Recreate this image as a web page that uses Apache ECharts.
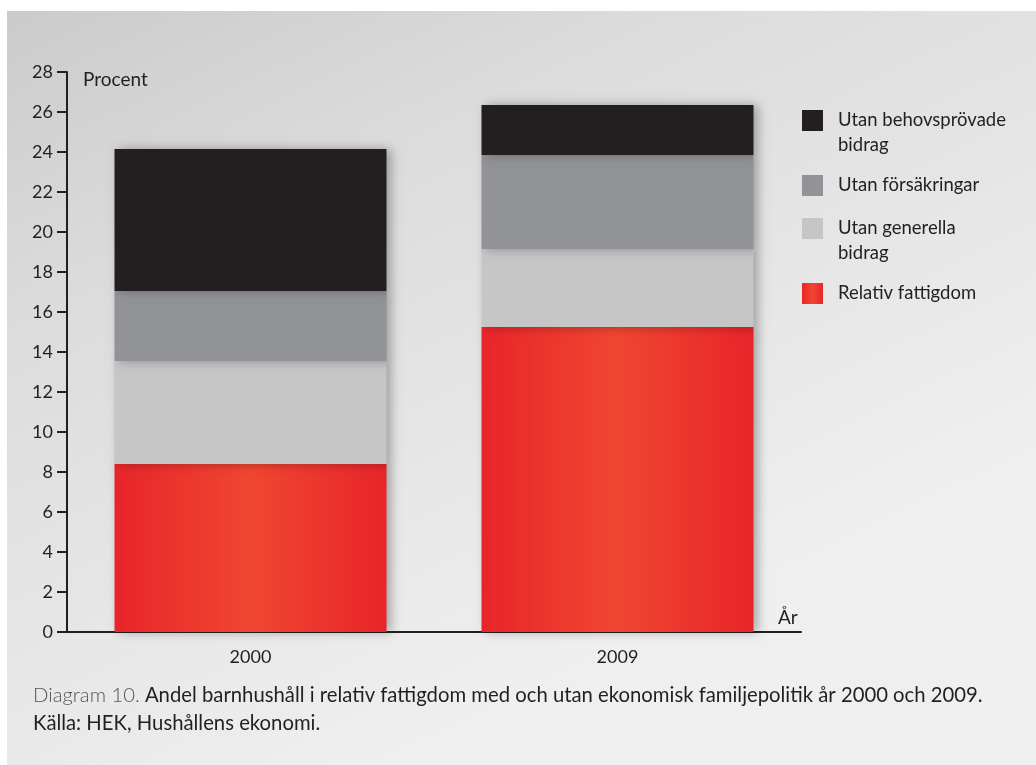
<!DOCTYPE html>
<html><head><meta charset="utf-8">
<script src="https://cdn.jsdelivr.net/npm/echarts@6/dist/echarts.min.js"></script>
<style>html,body{margin:0;padding:0;background:#fff}#c{width:1036px;height:765px}</style>
</head><body><div id="c"></div>
<script>
const years = ['2000', '2009'];
const relativFattigdom = [8.4, 15.25];
const utanGenerella = [5.15, 3.9];
const utanForsakringar = [3.5, 4.7];
const utanBehovsprovade = [7.1, 2.5];
const yTicks = [0, 2, 4, 6, 8, 10, 12, 14, 16, 18, 20, 22, 24, 26, 28];
const seriesNames = ['Relativ fattigdom', 'Utan generella bidrag', 'Utan försäkringar', 'Utan behovsprövade bidrag'];

const FONT = 'Lato, "Open Sans", sans-serif';
const shadow = {shadowBlur: 10, shadowOffsetX: 4, shadowOffsetY: 0, shadowColor: 'rgba(0,0,0,0.3)'};
const redGrad = new echarts.graphic.LinearGradient(0, 0, 1, 0, [
  {offset: 0, color: '#e8252a'}, {offset: 0.5, color: '#f04631'}, {offset: 1, color: '#e8252a'}]);
const colors = [redGrad, '#c6c6c6', '#929396', '#231f20'];
const dataSets = [relativFattigdom, utanGenerella, utanForsakringar, utanBehovsprovade];

const chart = echarts.init(document.getElementById('c'), null, {renderer: 'canvas'});

function legendFor(name, top) {
  return {
    data: [{name: name, itemStyle: {shadowBlur: 0, shadowOffsetX: 0}}],
    left: 802, top: top, padding: 0, orient: 'vertical',
    itemWidth: 21, itemHeight: 21, icon: 'rect', selectedMode: false,
    formatter: function (n) {
      if (n === 'Utan behovsprövade bidrag') return '\nUtan behovsprövade\nbidrag';
      if (n === 'Utan generella bidrag') return '\nUtan generella\nbidrag';
      return n;
    },
    textStyle: {fontFamily: FONT, fontSize: 18.5, color: '#231f20', lineHeight: 25,
      padding: [0, 0, 0, 10]}
  };
}

chart.setOption({
  animation: false,
  graphic: [
    {type: 'rect', left: 7, top: 11, z: -10, shape: {width: 1029, height: 754},
     style: {fill: new echarts.graphic.LinearGradient(0, 0, 0.35, 1, [
       {offset: 0, color: '#cbcbcb'}, {offset: 0.35, color: '#dcdcdc'}, {offset: 1, color: '#efefef'}])}},
    {type: 'text', left: 83, top: 70, style: {text: 'Procent', font: '19px ' + FONT, fill: '#231f20'}},
    {type: 'text', left: 778, top: 608, style: {text: 'År', font: '19px ' + FONT, fill: '#231f20'}}
  ],
  title: {
    left: 33, top: 681, padding: 0,
    text: '{a|Diagram 10.} {b|Andel barnhushåll i relativ fattigdom med och utan ekonomisk familjepolitik år 2000 och 2009.}\n{b|Källa: HEK, Hushållens ekonomi.}',
    textStyle: {
      fontFamily: FONT, fontSize: 20.3, fontWeight: 'normal', lineHeight: 28,
      rich: {
        a: {fontFamily: FONT, fontSize: 20.3, fontWeight: 300, color: '#555', lineHeight: 28},
        b: {fontFamily: FONT, fontSize: 20.3, color: '#231f20', lineHeight: 28}
      }
    }
  },
  legend: [
    legendFor('Utan behovsprövade bidrag', 83),
    legendFor('Utan försäkringar', 173),
    legendFor('Utan generella bidrag', 191),
    legendFor('Relativ fattigdom', 281)
  ],
  grid: {left: 67, right: 235, top: 72, bottom: 133},
  xAxis: {
    type: 'category', data: years,
    axisLine: {lineStyle: {color: '#231f20', width: 2}},
    axisTick: {alignWithLabel: true, length: 10, lineStyle: {color: '#231f20', width: 2}},
    axisLabel: {fontFamily: FONT, fontSize: 18, color: '#231f20', margin: 16}
  },
  yAxis: {
    type: 'value', min: 0, max: 28, interval: 2,
    axisLine: {show: true, lineStyle: {color: '#231f20', width: 2}},
    axisTick: {show: true, length: 10, lineStyle: {color: '#231f20', width: 2}},
    axisLabel: {fontFamily: FONT, fontSize: 18, color: '#231f20', margin: 14,
      formatter: function (v) { return yTicks.indexOf(v) >= 0 ? String(v) : ''; }},
    splitLine: {show: false}
  },
  series: seriesNames.map(function (n, i) {
    return {
      name: n, type: 'bar', stack: 'total', barWidth: 272,
      data: dataSets[i],
      itemStyle: Object.assign({color: colors[i]}, shadow),
      z: 2
    };
  })
});
</script></body></html>
